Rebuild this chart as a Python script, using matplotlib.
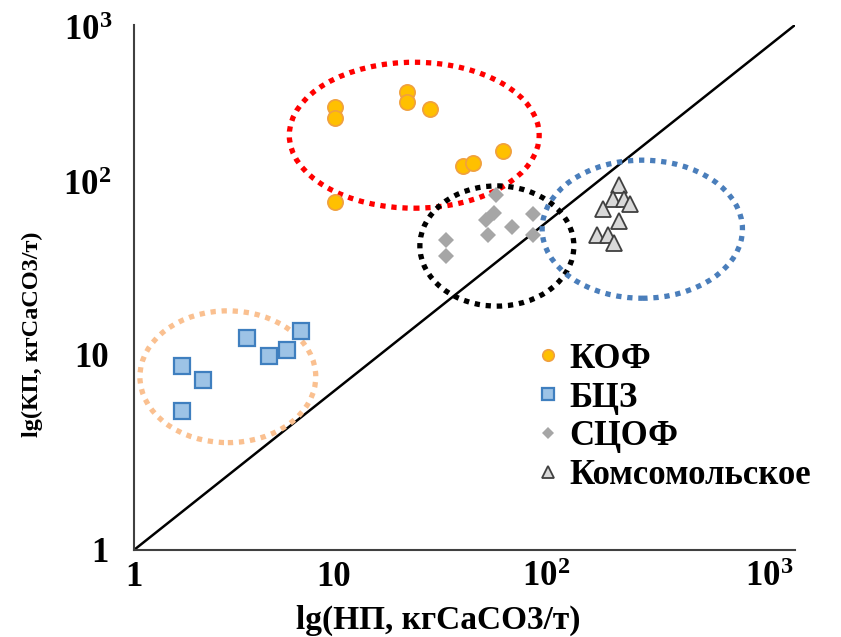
import matplotlib
matplotlib.use("Agg")
import matplotlib.pyplot as plt
from matplotlib.patches import Ellipse
from matplotlib.transforms import ScaledTranslation

plt.rcParams["font.family"] = ["Liberation Serif", "DejaVu Serif"]
plt.rcParams["font.weight"] = "bold"
plt.rcParams["mathtext.fontset"] = "custom"
plt.rcParams["mathtext.rm"] = "Liberation Serif:bold"
plt.rcParams["mathtext.bf"] = "Liberation Serif:bold"
plt.rcParams["mathtext.it"] = "Liberation Serif:bold"

# НП (x) and КП (y), кг CaCO3/т
kof_x = [8.2, 8.2, 17.4, 17.4, 22.1, 47.3, 31.1, 34.6, 8.2]
kof_y = [340, 294, 414, 363, 331, 190, 156, 163, 97]

bcz_x = [1.65, 2.06, 1.65, 3.26, 4.10, 4.95, 5.73]
bcz_y = [11.3, 9.4, 6.2, 16.3, 12.8, 13.9, 17.8]

scof_x = [44.0, 43.1, 39.6, 64.7, 52.0, 40.4, 64.7, 26.1, 26.1]
scof_y = [107, 84, 77, 83, 70, 63, 63, 59, 48]

koms_x = [159, 149, 168, 178, 135, 159, 126, 142, 151]
koms_y = [122, 101, 101, 95, 89, 76, 63, 63, 57]

series_names = ["КОФ", "БЦЗ", "СЦОФ", "Комсомольское"]
tick_values = [1, 10, 100, 1000]
tick_labels = ["1", "10", r"$10^2$", r"$10^3$"]

fig = plt.figure(figsize=(8.41, 6.37), dpi=100)
ax = fig.add_axes([0.1593, 0.1366, 0.786, 0.8242])
ax.set_xscale("log")
ax.set_yscale("log")
ax.set_xlim(1, 1000)
ax.set_ylim(1, 1000)

# 1:1 reference line
ax.plot([1, 1000], [1, 1000], color="black", lw=1.8, zorder=2)

ax.plot(kof_x, kof_y, "o", ms=11, mfc="#FFC000", mec="#F0A040", mew=1.2,
        label=series_names[0], zorder=4)
ax.plot(bcz_x, bcz_y, "s", ms=11, mfc="#9DC3E6", mec="#3F7FBF", mew=1.6,
        label=series_names[1], zorder=4)
ax.plot(scof_x, scof_y, "D", ms=8.5, mfc="#A6A6A6", mec="#A6A6A6", mew=0,
        label=series_names[2], zorder=4)
ax.plot(koms_x, koms_y, "^", ms=12, mfc="#D9D9D9", mec="#404040", mew=1.3,
        label=series_names[3], zorder=4)

# dotted group outlines (axes-fraction coordinates)
groups = [
    ((0.424, 0.790), 0.378, 0.278, "#FF0000"),
    ((0.549, 0.579), 0.233, 0.229, "#000000"),
    ((0.769, 0.611), 0.303, 0.263, "#4A7EBB"),
    ((0.142, 0.330), 0.266, 0.251, "#FAC090"),
]
for center, w, h, c in groups:
    ax.add_patch(Ellipse(center, w, h, transform=ax.transAxes, fill=False,
                         edgecolor=c, lw=3.8, linestyle=(0, (1, 1.1)),
                         capstyle="butt", zorder=3))

for side in ("top", "right"):
    ax.spines[side].set_visible(False)
for side in ("left", "bottom"):
    ax.spines[side].set_color("#404040")
    ax.spines[side].set_linewidth(1.5)

ax.xaxis.set_minor_locator(plt.NullLocator())
ax.yaxis.set_minor_locator(plt.NullLocator())
ax.set_xticks(tick_values, tick_labels)
ax.set_yticks(tick_values, tick_labels)
ax.tick_params(length=0, labelsize=25, pad=8)

x_shift = [0, -21, -29, -26]
y_shift = [0, 20, 17, -3]
y_hshift = [-14, -14, -12, -10]
for lab, dx in zip(ax.get_xticklabels(), x_shift):
    lab.set_transform(lab.get_transform() + ScaledTranslation(dx / 100, 0, fig.dpi_scale_trans))
for lab, dx, dy in zip(ax.get_yticklabels(), y_hshift, y_shift):
    lab.set_transform(lab.get_transform() + ScaledTranslation(dx / 100, dy / 100, fig.dpi_scale_trans))

ax.set_xlabel("lg(НП, кгCaCO3/т)", fontsize=24, fontweight="bold")
ax.set_ylabel("lg(КП, кгCaCO3/т)", fontsize=17.5, fontweight="bold")
ax.xaxis.set_label_coords(0.46, -0.105)
ax.yaxis.set_label_coords(-0.138, 0.41)

ax.legend(loc="upper left", bbox_to_anchor=(0.585, 0.428), frameon=False,
          fontsize=25, markerscale=0.75, handlelength=0.6, handletextpad=0.3,
          labelspacing=0.17, borderpad=0)

fig.savefig("out.png", dpi=100)
